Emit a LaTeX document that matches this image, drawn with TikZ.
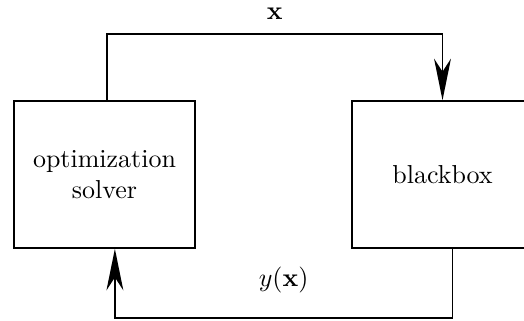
\documentclass[tikz,border=0pt]{standalone}
\usepackage{amsmath,amssymb}
\usepackage{tikz}
\usetikzlibrary{arrows.meta,positioning}

\begin{document}
\begin{tikzpicture}[
  x=0.385pt, y=-0.385pt,
  box/.style={draw, line width=0.6pt, align=center, minimum width=69.7pt,
              minimum height=56.6pt, inner sep=0pt},
  arr/.style={-{Stealth[length=16pt, width=6.5pt, inset=5pt]}, line width=0.6pt},
  lbl/.style={font=\normalsize}]
  \useasboundingbox (0,0) rectangle (524,320);
  \node[box] (solver) at (104.5,174.5) {optimization\\solver};
  \node[box] (blackbox) at (442.5,174.5) {blackbox};
  \coordinate (top) at (0,34);
  \coordinate (bot) at (0,318);

  % x goes to the blackbox
  \draw[arr] ([xshift=1pt]solver.north) -- ([xshift=1pt]solver.north |- top)
    -- node[lbl, above=2pt]{$\mathbf{x}$} (blackbox.north |- top) -- (blackbox.north);
  % y(x) comes back
  \draw[arr] ([xshift=3.8pt]blackbox.south) -- ([xshift=3.8pt]blackbox.south |- bot)
    -- node[lbl, above=6pt]{$y(\mathbf{x})$} ([xshift=4pt]solver.south |- bot)
    -- ([xshift=4pt]solver.south);
\end{tikzpicture}
\end{document}
